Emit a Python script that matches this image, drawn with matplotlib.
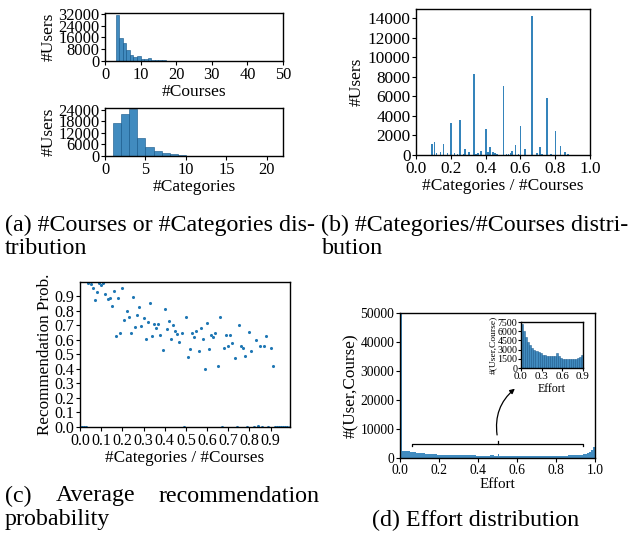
import matplotlib
matplotlib.use("Agg")
import matplotlib.pyplot as plt
import numpy as np

plt.rcParams['font.family'] = ['Liberation Serif', 'DejaVu Serif']
plt.rcParams['axes.linewidth'] = 1.0

# ---------------- data ----------------
# (a) top: #Courses histogram (integer bins starting at 3)
courses_bins = list(range(3, 21))
courses_users = [31000, 15600, 12000, 7200, 4300, 2800, 3300, 1600, 1200, 2100,
                 800, 700, 650, 600, 300, 150, 100, 80]
# (a) bottom: #Categories histogram (integer bins starting at 1)
categories_bins = list(range(1, 14))
categories_users = [17000, 22000, 24300, 9300, 4600, 2500, 1400, 800, 750, 150, 80, 50, 30]

# (b) #Categories / #Courses distribution
ratio_x = [0.091, 0.107, 0.118, 0.141, 0.159, 0.182, 0.200, 0.222, 0.239, 0.253,
           0.272, 0.282, 0.303, 0.332, 0.345, 0.357, 0.372, 0.401, 0.413, 0.425,
           0.442, 0.454, 0.467, 0.504, 0.519, 0.532, 0.544, 0.552, 0.573, 0.589,
           0.601, 0.625, 0.667, 0.695, 0.714, 0.725, 0.752, 0.776, 0.802, 0.831,
           0.856, 0.873]
ratio_users = [1150, 1350, 250, 330, 1150, 220, 3300, 200, 100, 3580,
               150, 620, 320, 8250, 120, 200, 420, 2650, 260, 820,
               330, 230, 130, 7020, 100, 150, 230, 400, 1050, 130,
               2950, 620, 14150, 200, 850, 110, 5820, 110, 2450, 920,
               330, 120]

# (c) average recommendation probability
rec_x = [round(i * 0.01, 2) for i in range(100)]
rec_prob = [0, 0, 0, 0, 0.99, 0.985, 0.957, 0.87, 0.927, 0.99,
            0.975, 0.99, 0.913, 0.877, 0.889, 0.83, 0.937, 0.623, 0.886, 0.648,
            0.957, 0.738, 0.797, 0.755, 0.646, 0.893, 0.685, 0.767, 0.824, 0.694,
            0.749, 0.602, 0.721, 0.854, 0.628, 0.705, 0.683, 0.705, 0.63, 0.532,
            0.81, 0.673, 0.726, 0.602, 0.703, 0.657, 0.639, 0.582, 0.646, 0.0,
            0.753, 0.479, 0.534, 0.644, 0.616, 0.657, 0.525, 0.68, 0.602, 0.401,
            0.714, 0.538, 0.63, 0.616, 0.648, 0.417, 0.755, 0.0, 0.545, 0.63,
            0.554, 0.63, 0.575, 0.472, 0.0, 0.703, 0.559, 0.541, 0.49, 0.0,
            0.655, 0.525, 0.0, 0.60, 0.01, 0.559, 0.0, 0.559, 0.623, 0.0,
            0.545, 0.419, 0, 0, 0, 0, 0, 0, 0, 0]

# (d) effort distribution, 100 bins over [0, 1]
effort_counts = [60000,
                 2500, 2450, 2350, 2250, 2150,
                 2050, 1950, 1850, 1800, 1700,
                 1650, 1600, 1550, 1450, 1400,
                 1350, 1300, 1250, 1200, 1150,
                 1100, 1050, 1050, 1000, 1000,
                 980, 960, 950, 940, 930,
                 920, 910, 900, 900, 890,
                 880, 870, 870, 860, 860,
                 850, 850, 850, 840, 840,
                 900, 1100, 850, 840, 1400,
                 820, 820, 810, 810, 800,
                 800, 800, 790, 790, 790,
                 780, 780, 780, 780, 780,
                 770, 770, 770, 770, 770,
                 770, 770, 770, 780, 780,
                 780, 790, 790, 800, 800,
                 810, 820, 830, 840, 860,
                 880, 900, 920, 950, 980,
                 1050, 1100, 1200, 1300, 1450,
                 1700, 2000, 2600, 3900]
effort_edges = np.linspace(0, 1, len(effort_counts) + 1)
# inset: 30 bins over [0, 0.9]
inset_counts = [7200, 6000, 5100, 4300, 3700, 3200, 3000, 2750, 2550, 2400,
                2200, 2100, 2000, 1950, 1900, 1900, 1950, 2450, 1900, 1550,
                1500, 1450, 1400, 1400, 1400, 1400, 1450, 1600, 1800, 2200]
inset_edges = np.linspace(0, 0.9, len(inset_counts) + 1)

BLUE = '#1f77b4'
EDGE = '#1a5a8c'

W, H = 639, 534
fig = plt.figure(figsize=(W / 100, H / 100), dpi=100)


def ax_at(l, t, r, b):
    return fig.add_axes([l / W, 1 - b / H, (r - l) / W, (b - t) / H])


# ---- (a) top ----
ax1 = ax_at(105, 13, 283, 61)
ax1.bar(courses_bins, courses_users, width=1, align='edge', color=BLUE, alpha=0.85,
        edgecolor=EDGE, linewidth=0.5)
ax1.set_xlim(0, 50)
ax1.set_ylim(0, 32600)
ax1.set_xticks([0, 10, 20, 30, 40, 50])
ax1.set_yticks([0, 8000, 16000, 24000, 32000])
ax1.tick_params(labelsize=11.8, length=3, pad=1)
ax1.set_xlabel('#Courses', fontsize=12.5, labelpad=1)
ax1.set_ylabel('#Users', fontsize=12.5, labelpad=1)

# ---- (a) bottom ----
ax2 = ax_at(105, 108, 283, 156)
ax2.bar(categories_bins, categories_users, width=1, align='edge', color=BLUE, alpha=0.85,
        edgecolor=EDGE, linewidth=0.5)
ax2.set_xlim(0, 22)
ax2.set_ylim(0, 25000)
ax2.set_xticks([0, 5, 10, 15, 20])
ax2.set_yticks([0, 6000, 12000, 18000, 24000])
ax2.tick_params(labelsize=11.8, length=3, pad=1)
ax2.set_xlabel('#Categories', fontsize=12.5, labelpad=1)
ax2.set_ylabel('#Users', fontsize=12.5, labelpad=1)

# ---- (b) ----
ax3 = ax_at(416, 9.5, 590, 155)
ax3.bar(ratio_x, ratio_users, width=0.009, color=BLUE, alpha=0.9, linewidth=0)
ax3.set_xlim(0, 1.0)
ax3.set_ylim(0, 14860)
ax3.set_xticks([0.0, 0.2, 0.4, 0.6, 0.8, 1.0])
ax3.set_yticks(range(0, 14001, 2000))
ax3.tick_params(labelsize=12.4, length=3, pad=1)
ax3.set_xlabel('#Categories / #Courses', fontsize=12.5, labelpad=1)
ax3.set_ylabel('#Users', fontsize=12.5, labelpad=2)

# ---- (c) ----
ax4 = ax_at(80, 282, 290, 427)
ax4.scatter(rec_x, rec_prob, s=5, color=BLUE, linewidths=0)
ax4.set_xlim(0, 0.992)
ax4.set_ylim(0, 0.996)
ax4.set_xticks([round(0.1 * i, 1) for i in range(10)])
ax4.set_yticks([round(0.1 * i, 1) for i in range(10)])
ax4.tick_params(labelsize=11.5, length=3, pad=1)
ax4.set_xlabel('#Categories / #Courses', fontsize=12.3, labelpad=1)
ax4.set_ylabel('Recommendation Prob.', fontsize=12.3, labelpad=1)

# ---- (d) ----
ax5 = ax_at(400, 313, 595, 458)
ax5.bar(effort_edges[:-1], effort_counts, width=np.diff(effort_edges), align='edge',
        color=BLUE, alpha=0.85, linewidth=0)
ax5.set_xlim(0, 1.0)
ax5.set_ylim(0, 50000)
ax5.set_xticks([0.0, 0.2, 0.4, 0.6, 0.8, 1.0])
ax5.set_yticks(range(0, 50001, 10000))
ax5.tick_params(labelsize=9.8, length=3, pad=1)
ax5.set_xlabel('Effort', fontsize=10.8, labelpad=1)
ax5.set_ylabel('#(User,Course)', fontsize=12.3, labelpad=1)

# bracket + curved arrow
ax5.plot([0.06, 0.06, 0.94, 0.94], [4000, 5000, 5000, 4000], color='black', lw=0.9)
ax5.plot([0.5, 0.5], [5000, 5800], color='black', lw=0.9)
ax5.annotate('', xy=(0.6, 24500), xytext=(0.5, 7000),
             arrowprops=dict(arrowstyle='-|>', color='black', lw=0.9,
                             mutation_scale=7,
                             connectionstyle='arc3,rad=-0.3'))

# inset
ax6 = ax_at(521, 322, 583, 368)
ax6.bar(inset_edges[:-1], inset_counts, width=np.diff(inset_edges), align='edge',
        color=BLUE, alpha=0.85, edgecolor=EDGE, linewidth=0.4)
ax6.set_xlim(0, 0.9)
ax6.set_ylim(0, 7500)
ax6.set_xticks([0.0, 0.3, 0.6, 0.9])
ax6.set_yticks(range(0, 7501, 1500))
ax6.tick_params(axis='y', labelsize=7.2, length=2, pad=0.5)
ax6.tick_params(axis='x', labelsize=8, length=2, pad=1)
ax6.set_xlabel('Effort', fontsize=8.6, labelpad=1)
ax6.set_ylabel('#(User,Course)', fontsize=6.8, labelpad=0.5)

# ---- captions ----
cap = 17.3
fig.text(5 / W, 1 - 225 / H, '(a) #Courses or #Categories dis-',
         fontsize=cap, va='center', ha='left')
fig.text(321 / W, 1 - 225 / H, '(b) #Categories/#Courses distri-',
         fontsize=cap, va='center', ha='left')
fig.text(5 / W, 1 - 248 / H, 'tribution', fontsize=cap, va='center', ha='left')
fig.text(322 / W, 1 - 248 / H, 'bution', fontsize=cap, va='center', ha='left')

fig.text(5 / W, 1 - 496 / H, '(c)', fontsize=cap, va='center', ha='left')
fig.text(96 / W, 1 - 496 / H, 'Average', fontsize=cap, va='center', ha='center')
fig.text(320 / W, 1 - 496 / H, 'recommendation', fontsize=cap, va='center', ha='right')
fig.text(5 / W, 1 - 520 / H, 'probability', fontsize=cap, va='center', ha='left')
fig.text(476 / W, 1 - 520 / H, '(d) Effort distribution', fontsize=cap, va='center', ha='center')

fig.savefig('out.png', dpi=100)
